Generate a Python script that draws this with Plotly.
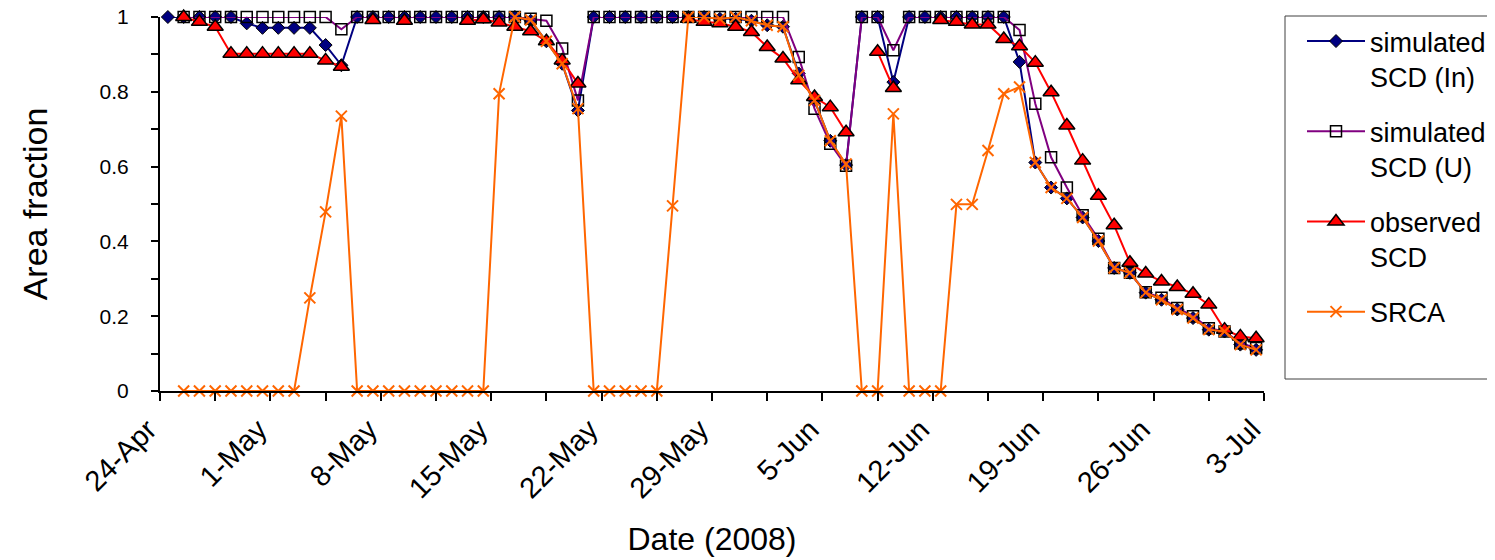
import pandas as pd
import plotly.graph_objects as go

# Categories: one value per day, 24 Apr 2008 .. 2 Jul 2008 (70 days)
start_date = "2008-04-24"
n_days = 70
dates = pd.date_range(start_date, periods=n_days, freq="D")

N = None
sim_In = [1.0, 1.0, 1.0, 1.0, 1.0, 0.983, 0.971, 0.971, 0.971, 0.971,
          0.925, 0.871, 1.0, 1.0, 1.0, 1.0, 1.0, 1.0, 1.0, 1.0,
          1.0, 1.0, 1.0, 0.99, 0.935, 0.875, 0.75, 1.0, 1.0, 1.0,
          1.0, 1.0, 1.0, 1.0, 1.0, 0.995, 0.995, 0.99, 0.978, 0.974,
          0.849, 0.777, 0.669, 0.604, 1.0, 1.0, 0.826, 1.0, 1.0, 1.0,
          1.0, 1.0, 1.0, 1.0, 0.88, 0.611, 0.544, 0.515, 0.464, 0.401,
          0.329, 0.316, 0.263, 0.244, 0.218, 0.195, 0.164, 0.159, 0.124, 0.110]

sim_U = [N, 1.0, 1.0, 1.0, 1.0, 1.0, 1.0, 1.0, 1.0, 1.0,
         1.0, 0.967, 1.0, 1.0, 1.0, 1.0, 1.0, 1.0, 1.0, 1.0,
         1.0, 1.0, 1.0, 0.995, 0.99, 0.916, 0.777, 1.0, 1.0, 1.0,
         1.0, 1.0, 1.0, 1.0, 1.0, 1.0, 1.0, 1.0, 1.0, 1.0,
         0.893, 0.755, 0.661, 0.602, 1.0, 1.0, 0.911, 1.0, 1.0, 1.0,
         1.0, 1.0, 1.0, 1.0, 0.965, 0.768, 0.625, 0.544, 0.470, 0.407,
         0.329, 0.316, 0.264, 0.249, 0.222, 0.200, 0.168, 0.159, 0.128, 0.115]

observed = [N, 1.0, 0.987, 0.974, 0.902, 0.902, 0.902, 0.902, 0.902, 0.902,
            0.884, 0.867, N, 0.992, N, 0.99, N, N, N, 0.99,
            0.994, 0.985, 0.974, 0.962, 0.935, 0.884, 0.822, N, N, N,
            N, N, N, 0.995, 0.987, 0.983, 0.974, 0.960, 0.920, 0.889,
            0.831, 0.786, 0.759, 0.692, N, 0.907, 0.810, N, N, 0.992,
            0.987, 0.980, 0.980, 0.941, 0.922, 0.878, 0.799, 0.710, 0.616, 0.522,
            0.443, 0.343, 0.314, 0.293, 0.278, 0.260, 0.231, 0.164, 0.146, 0.141]

srca = [N, 0, 0, 0, 0, 0, 0, 0, 0, 0.249,
        0.479, 0.735, 0, 0, 0, 0, 0, 0, 0, 0,
        0, 0.795, 1.0, 0.992, 0.935, 0.875, 0.755, 0, 0, 0,
        0, 0, 0.495, 1.0, 1.0, 0.995, 1.0, 0.99, 0.978, 0.974,
        0.844, 0.777, 0.669, 0.607, 0, 0, 0.741, 0, 0, 0,
        0.499, 0.499, 0.643, 0.795, 0.813, 0.611, 0.544, 0.515, 0.464, 0.401,
        0.329, 0.316, 0.263, 0.244, 0.218, 0.195, 0.164, 0.159, 0.124, 0.110]

# Axis ticks
x_tick_labels = ["24-Apr", "1-May", "8-May", "15-May", "22-May", "29-May",
                 "5-Jun", "12-Jun", "19-Jun", "26-Jun", "3-Jul"]
y_tick_vals = [0, 0.1, 0.2, 0.3, 0.4, 0.5, 0.6, 0.7, 0.8, 0.9, 1.0]
y_tick_labels = ["0", "", "0.2", "", "0.4", "", "0.6", "", "0.8", "", "1"]

# points sit in the middle of each day's slot
x_pts = dates + pd.Timedelta(hours=12)
axis_start = pd.Timestamp(start_date)
axis_end = axis_start + pd.Timedelta(days=n_days)
tick_pos = pd.date_range(axis_start, axis_end, freq="84h")
tick_text = []
for i in range(len(tick_pos)):
    tick_text.append(x_tick_labels[i // 2] if i % 2 == 0 else "")

FONT = "Liberation Sans, Arial, sans-serif"

fig = go.Figure()
fig.add_trace(go.Scatter(
    x=x_pts, y=sim_In, name="simulated<br>SCD (In)", mode="lines+markers",
    line=dict(color="#000080", width=2),
    marker=dict(symbol="diamond", size=10, color="#000080",
                line=dict(color="black", width=1)),
    cliponaxis=False, connectgaps=False, legendgroup="a"))
fig.add_trace(go.Scatter(
    x=x_pts, y=sim_U, name="simulated<br>SCD (U)", mode="lines+markers",
    line=dict(color="#800080", width=2),
    marker=dict(symbol="square-open", size=11, color="black",
                line=dict(color="black", width=1.5)),
    cliponaxis=False, connectgaps=False, legendgroup="b"))
fig.add_trace(go.Scatter(
    x=x_pts, y=observed, name="observed<br>SCD", mode="lines+markers",
    line=dict(color="#FF0000", width=2),
    marker=dict(symbol="triangle-up", size=14, color="#FF0000",
                line=dict(color="black", width=1.5)),
    cliponaxis=False, connectgaps=False, legendgroup="c"))
fig.add_trace(go.Scatter(
    x=x_pts, y=srca, name="SRCA", mode="lines+markers",
    line=dict(color="#FF6600", width=2),
    marker=dict(symbol="x-thin-open", size=11, color="#FF6600",
                line=dict(color="#FF6600", width=2)),
    cliponaxis=False, connectgaps=False, legendgroup="d"))

OFF = 8  # page body margin
L, T = 160 - OFF, 17 - OFF
W, H = 1495, 560
pw, ph = 1104, 374
R = W - L - pw
B = H - T - ph

def px2paper_x(px):
    return (px - OFF - L) / pw

def px2paper_y(py):
    return (T + ph - (py - OFF)) / ph

fig.update_layout(
    width=W, height=H,
    margin=dict(l=L, r=R, t=T, b=B, autoexpand=False),
    paper_bgcolor="white", plot_bgcolor="white",
    font=dict(family=FONT, color="black", size=22),
    showlegend=True,
    legend=dict(x=px2paper_x(1302), y=px2paper_y(17), xanchor="left", yanchor="top",
                font=dict(size=27, family=FONT), valign="top",
                tracegroupgap=17, itemwidth=58, bgcolor="rgba(0,0,0,0)",
                borderwidth=0, traceorder="grouped"),
    shapes=[dict(type="rect", xref="paper", yref="paper",
                 x0=px2paper_x(1285), x1=px2paper_x(1510),
                 y0=px2paper_y(379), y1=px2paper_y(16),
                 line=dict(color="#404040", width=1), fillcolor="rgba(0,0,0,0)")],
)

fig.update_xaxes(
    type="date", range=[axis_start, axis_end],
    tickvals=tick_pos, ticktext=tick_text, tickangle=-45,
    ticks="outside", ticklen=8, tickwidth=1.5, tickcolor="black",
    showline=True, linecolor="black", linewidth=2, showgrid=False, zeroline=False,
    tickfont=dict(size=29, family=FONT), ticklabeloverflow="allow",
    ticklabelshift=-12,
    title=dict(text="Date (2008)", font=dict(size=32, family=FONT), standoff=24),
    automargin=False,
)
fig.update_yaxes(
    range=[0, 1], tickvals=y_tick_vals, ticktext=y_tick_labels,
    ticks="outside", ticklen=7, tickwidth=1.5, tickcolor="black",
    showline=True, linecolor="black", linewidth=2, showgrid=False, zeroline=False,
    tickfont=dict(size=21, family=FONT), ticklabeloverflow="allow",
    ticklabelstandoff=18,
    title=dict(text="Area fraction", font=dict(size=34, family=FONT), standoff=42),
    automargin=False,
)

fig.write_html("out.html")
